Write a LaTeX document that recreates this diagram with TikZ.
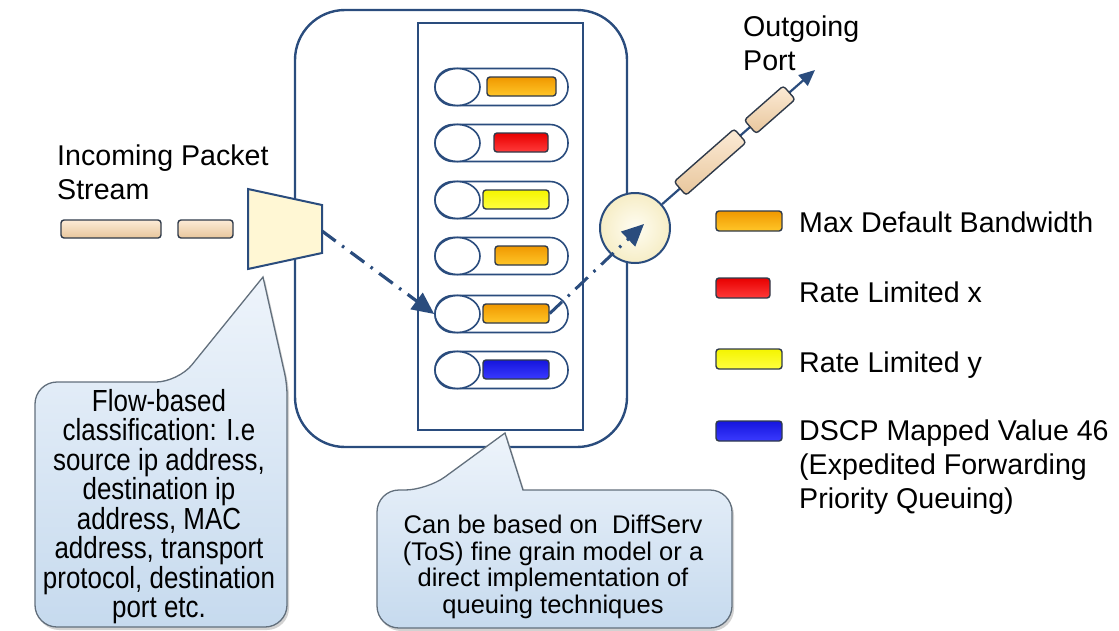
\documentclass[tikz,border=0pt]{standalone}
\usepackage{fontspec}
\setmainfont{Liberation Sans}
\newfontfamily\tallfont[FakeStretch=0.85]{Liberation Sans}
\usetikzlibrary{arrows.meta,shadows,shapes.geometric}
\definecolor{navy}{HTML}{2A4C7D}
\definecolor{bardraw}{HTML}{2F3A4A}
\definecolor{calloutdraw}{HTML}{626F7C}
\definecolor{orA}{HTML}{F09800}\definecolor{orB}{HTML}{FFC628}
\definecolor{reA}{HTML}{E80000}\definecolor{reB}{HTML}{FF3A3A}
\definecolor{yeA}{HTML}{F4F400}\definecolor{yeB}{HTML}{FFFF40}
\definecolor{blA}{HTML}{1515DD}\definecolor{blB}{HTML}{3A3AFF}
\definecolor{peA}{HTML}{FCEBD6}\definecolor{peB}{HTML}{E8C69C}
\definecolor{clsfill}{HTML}{FFF7D4}
\definecolor{scA}{HTML}{FFFDF2}\definecolor{scB}{HTML}{F6EDC6}
\definecolor{caA}{HTML}{EEF4FB}\definecolor{caB}{HTML}{C6DAEE}
\begin{document}
\begin{tikzpicture}[x=1pt,y=-1pt,
  pill/.style={draw=navy,line width=1.6pt,fill=white,rounded corners=18pt,minimum width=133pt,minimum height=37pt,inner sep=0pt},
  hole/.style={draw=navy,line width=1.6pt,fill=white,ellipse,minimum width=45pt,minimum height=37pt,inner sep=0pt},
  bar/.style={draw=bardraw,line width=1.4pt,rounded corners=3pt,minimum height=19pt,inner sep=0pt},
  orangebar/.style={top color=orA,bottom color=orB},
  redbar/.style={top color=reA,bottom color=reB},
  yellowbar/.style={top color=yeA,bottom color=yeB},
  bluebar/.style={top color=blA,bottom color=blB},
  packet/.style={draw=bardraw,line width=1.4pt,rounded corners=3pt,minimum height=18pt,inner sep=0pt,top color=peA,bottom color=peB},
  flow/.style={draw=navy,line width=3.2pt,dash pattern=on 17pt off 8pt on 2.5pt off 8pt},
  callout/.style={draw=calloutdraw,line width=1.3pt,top color=caA,bottom color=caB,drop shadow={shadow xshift=2pt,shadow yshift=-3pt,fill=black!35}},
  lbl/.style={font=\fontsize{28.6}{34}\selectfont,inner sep=0pt,align=left},
  ctext/.style={inner sep=0pt,align=center}
]
\useasboundingbox (0,0) rectangle (1119,630);

% main container
\draw[navy,line width=2.4pt,rounded corners=50pt] (295,10) rectangle (627,447);
\node[draw=navy,line width=1.8pt,minimum width=165pt,minimum height=407pt,inner sep=0pt] (queues) at (500.5,226.5) {};

% queues
\foreach \i/\y in {1/87,2/143,3/200,4/256,5/314,6/370}{
  \node[pill] (q\i) at (501.5,\y) {};
  \node[hole] (c\i) at (457.5,\y) {};
}
\node[bar,orangebar,minimum width=69pt] (b1) at (521.5,86.5) {};
\node[bar,redbar,minimum width=54pt] (b2) at (521,142.5) {};
\node[bar,yellowbar,minimum width=66pt] (b3) at (516,199.5) {};
\node[bar,orangebar,minimum width=53pt] (b4) at (521.5,255.5) {};
\node[bar,orangebar,minimum width=66pt] (b5) at (516,313.5) {};
\node[bar,bluebar,minimum width=66pt] (b6) at (516,369.5) {};

% incoming packets
\node[packet,minimum width=100pt] (p1) at (111,229) {};
\node[packet,minimum width=55pt] (p2) at (205.5,229) {};
\node[lbl,anchor=north west] (inlbl) at (57,145) {Incoming Packet\\Stream};

% classifier
\draw[navy,line width=2pt,fill=clsfill] (248,189) coordinate (k1) -- (322,205) coordinate (k2) -- (322,253) coordinate (k3) -- (248,269) coordinate (k4) -- cycle;
\coordinate (cls) at (322,231);

% flow arrow into queue 5
\draw[flow,-{Triangle[length=22pt,width=20pt]}] (cls) -- (c5.west);

% scheduler
\node[circle,draw=navy,line width=2pt,inner color=scA,outer color=scB,minimum size=70pt,inner sep=0pt] (sched) at (635,228) {};
\coordinate (sin) at (644,224);
\draw[flow,line width=3pt,-{Triangle[length=22pt,width=20pt]}] (b5.east) -- (sin);

% outgoing
\coordinate (optip) at (815,70);
\draw[navy,line width=2.2pt,-{Triangle[length=16pt,width=14pt]}] (sched) -- (optip)
  node[packet,sloped,pos=0.314,minimum width=80pt] (op1) {}
  node[packet,sloped,pos=0.704,minimum width=52pt] (op2) {};
\node[lbl,anchor=north west] (outlbl) at (743,16) {Outgoing\\Port};

% legend
\node[bar,orangebar,minimum width=66pt,minimum height=20pt] (l1) at (749,221) {};
\node[bar,redbar,minimum width=54pt,minimum height=20pt] (l2) at (743,288) {};
\node[bar,yellowbar,minimum width=66pt,minimum height=20pt] (l3) at (749,359) {};
\node[bar,bluebar,minimum width=66pt,minimum height=20pt] (l4) at (749,431) {};
\node[lbl,anchor=base west] (lt1) at (799,232) {Max Default Bandwidth};
\node[lbl,anchor=base west] (lt2) at (799,302) {Rate Limited x};
\node[lbl,anchor=base west] (lt3) at (799,372) {Rate Limited y};
\node[lbl,anchor=north west] (lt4) at (799,420) {DSCP Mapped Value 46\\(Expedited Forwarding\\Priority Queuing)};

% callout 1
\path[callout] (35,505) [rounded corners=22pt] -- (35,382) -- (178,382) [sharp corners] -- (263,277) [rounded corners=10pt] -- (287,384) [rounded corners=22pt] -- (287,627) -- (35,627) -- cycle;
\node[ctext,anchor=north,font=\tallfont\fontsize{30.5}{29.5}\selectfont] (ct1) at (159,389) {Flow-based\\classification: I.e\\source ip address,\\destination ip\\address, MAC\\address, transport\\protocol, destination\\port etc.};

% callout 2
\path[callout] (377,560) [rounded corners=22pt] -- (377,490) -- (427,490) [sharp corners] -- (505,433) -- (523,490) [rounded corners=22pt] -- (732,490) -- (732,628) -- (377,628) -- cycle;
\node[ctext,anchor=north,font=\fontsize{25.5}{26.5}\selectfont] (ct2) at (553,515) {Can be based on~~DiffServ\\(ToS) fine grain model or a\\direct implementation of\\queuing techniques};
\end{tikzpicture}
\end{document}
